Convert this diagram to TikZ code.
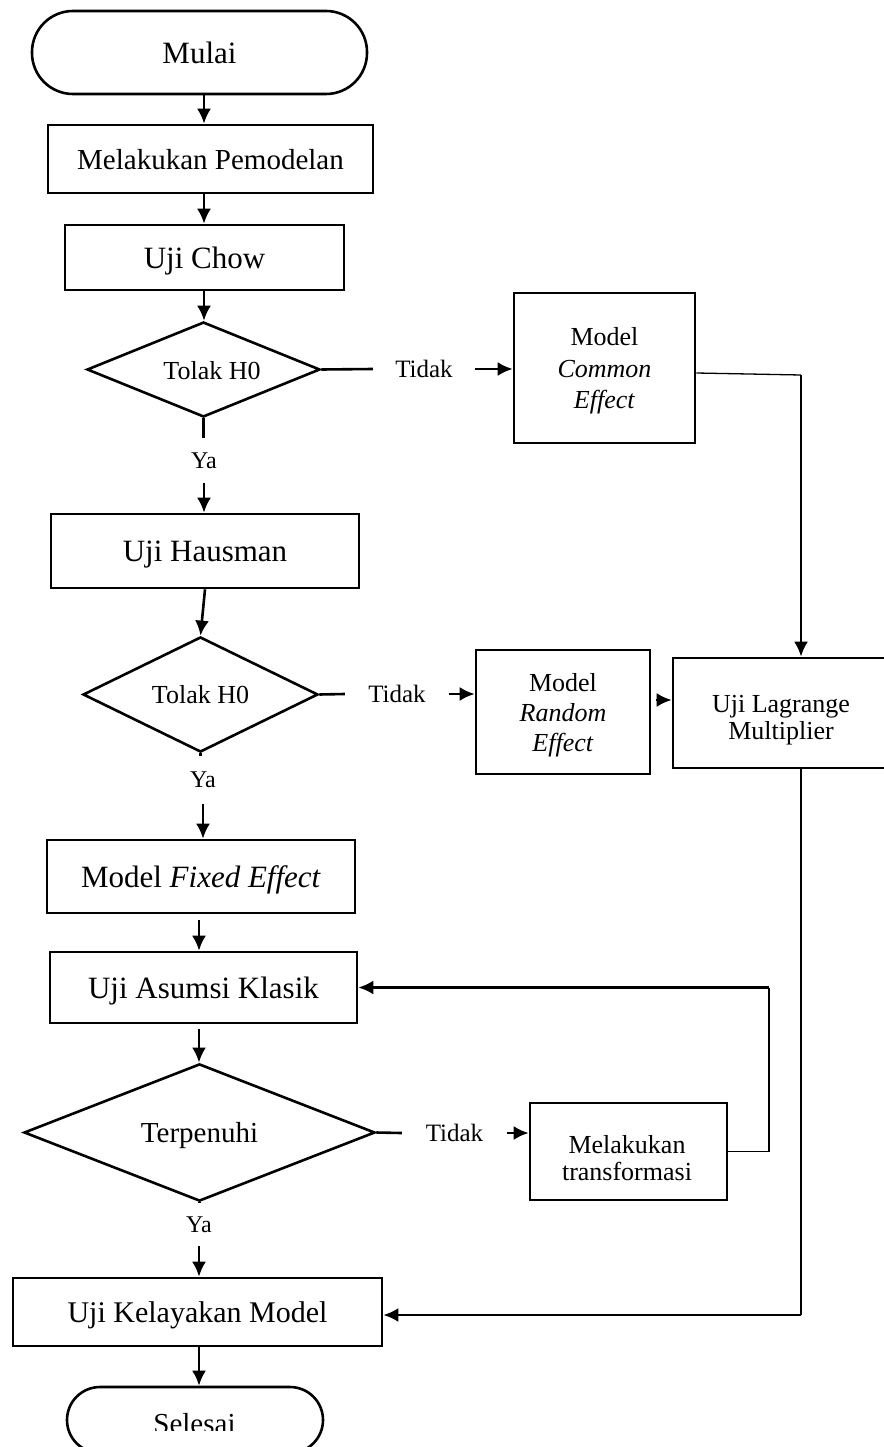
\documentclass[tikz,border=0pt]{standalone}
\usepackage{fontspec}
\setmainfont{Liberation Serif}
\usetikzlibrary{shapes.geometric,arrows.meta}
\begin{document}
\begin{tikzpicture}[x=1pt,y=-1pt,
  box/.style={draw, line width=2.6pt, inner sep=0pt, text depth=0pt, align=center},
  term/.style={box, rounded corners=#1},
  dec/.style={draw, diamond, line width=2.6pt, inner sep=0pt, text depth=0pt},
  txt/.style={inner sep=0pt, text depth=0pt, align=center},
  lbl/.style={inner sep=0pt, text depth=0pt},
  fA/.style={font=\fontsize{31}{37}\selectfont},
  fB/.style={font=\fontsize{29}{35}\selectfont},
  fC/.style={font=\fontsize{30}{36}\selectfont},
  fD/.style={font=\fontsize{26}{31.5}\selectfont},
  fE/.style={font=\fontsize{26}{30}\selectfont},
  fF/.style={font=\fontsize{26}{27}\selectfont},
  fG/.style={font=\fontsize{25}{30}\selectfont},
  fH/.style={font=\fontsize{24}{29}\selectfont},
  arr/.style={line width=2.6pt, -{Latex[length=15pt,width=14pt]}},
  ln/.style={line width=2.6pt},
  thinln/.style={line width=1.3pt}]
\useasboundingbox (0,0) rectangle (883,1447);

\coordinate (cA) at (204,0);
\coordinate (cB) at (199,0);
\coordinate (cR) at (801,0);
\coordinate (cL) at (769,0);

\node[term=41pt, minimum width=335pt, minimum height=83pt, fA] (mulai) at (199.5,52.5) {Mulai};
\node[box, minimum width=325pt, minimum height=68pt, fB] (pemod) at (210.5,159) {Melakukan Pemodelan};
\node[box, minimum width=279pt, minimum height=65pt, fA] (chow) at (204.5,257.5) {Uji Chow};
\node[dec, minimum width=233pt, minimum height=95pt] (d1) at (203.5,369.5) {};
\node[txt, fD] (d1t) at (212,370) {Tolak H0};
\node[lbl, fG, minimum width=102pt] (tidak1) at (424,369) {Tidak};
\node[box, minimum width=181pt, minimum height=150pt, fD] (common) at (604.5,368) {Model\\\textit{Common}\\\textit{Effect}};
\node[lbl, fH, minimum height=45pt] (ya1) at (204,460.5) {Ya};
\node[box, minimum width=308pt, minimum height=74pt, fA] (haus) at (205,551) {Uji Hausman};
\node[dec, minimum width=235pt, minimum height=95pt, fD] (d2) at (200.5,694.5) {Tolak H0};
\node[lbl, fG, minimum width=104pt] (tidak2) at (397,694) {Tidak};
\node[box, minimum width=174pt, minimum height=124pt, fE] (random) at (563,712) {Model\\\textit{Random}\\\textit{Effect}};
\node[box, minimum width=216pt, minimum height=110pt] (lagr) at (781,713) {};
\node[txt, fF] (lagrt) at (781,717.5) {Uji Lagrange\\Multiplier};
\node[lbl, fH, minimum height=48pt] (ya2) at (203,780) {Ya};
\node[box, minimum width=308pt, minimum height=73pt, fA] (fixed) at (201,876.5) {Model \textit{Fixed Effect}};
\node[box, minimum width=307pt, minimum height=71pt, fA] (asumsi) at (203.5,987.5) {Uji Asumsi Klasik};
\node[dec, minimum width=351pt, minimum height=111pt, fB] (d3) at (199.5,1132.5) {Terpenuhi};
\node[lbl, fG, minimum width=105pt] (tidak3) at (454.5,1133) {Tidak};
\node[box, minimum width=197pt, minimum height=97pt] (transf) at (628.5,1151.5) {};
\node[txt, fF] (transft) at (627,1157.5) {Melakukan\\transformasi};
\node[lbl, fH, minimum height=43pt] (ya3) at (199,1224.5) {Ya};
\node[box, minimum width=369pt, minimum height=68pt, fC] (kelay) at (197.5,1312) {Uji Kelayakan Model};
\node[term=33pt, minimum width=256pt, minimum height=66pt] (selesai) at (195,1420) {};
\begin{scope}
\clip (0,1380) rectangle (883,1430);
\node[txt, fB] (selesait) at (194.5,1423) {Selesai};
\end{scope}

\draw[arr] (mulai.south -| cA) -- (pemod.north -| cA);
\draw[arr] (pemod.south -| cA) -- (chow.north -| cA);
\draw[arr] (chow.south -| cA) -- (d1.north -| cA);
\draw[ln] (d1.east) -- (tidak1.west);
\draw[arr] (tidak1.east) -- (tidak1.east -| common.west);
\draw[ln] (d1.south) -- (d1.south |- ya1.north);
\draw[arr] (ya1.south) -- (ya1.south |- haus.north);
\draw[arr] (haus.south) -- (d2.north);
\draw[ln] (d2.east) -- (tidak2.west);
\draw[arr] (tidak2.east) -- (tidak2.east -| random.west);
\draw[arr] ([xshift=5pt,yshift=12pt]random.east) -- ([yshift=12pt]random.east -| lagr.west);
\draw[thinln] ([yshift=-5pt]common.east) -- ([yshift=-7pt]common.east -| cR);
\draw[arr] ([yshift=-7pt]common.east -| cR) -- (lagr.north -| cR);
\draw[thinln] (lagr.south -| cR) -- ([yshift=-3pt]kelay.east -| cR);
\draw[arr] ([yshift=-3pt]kelay.east -| cR) -- ([yshift=-3pt]kelay.east);
\draw[ln] (d2.south) -- (d2.south |- ya2.north);
\draw[arr] (ya2.south) -- (ya2.south |- fixed.north);
\draw[arr, shorten <=6pt] (fixed.south -| cB) -- (asumsi.north -| cB);
\draw[arr, shorten <=5pt] (asumsi.south -| cB) -- (d3.north -| cB);
\draw[ln] (d3.east) -- (tidak3.west);
\draw[arr] (tidak3.east) -- (tidak3.east -| transf.west);
\draw[thinln] (transf.east) -- (transf.east -| cL) -- (asumsi.east -| cL);
\draw[arr] (asumsi.east -| cL) -- (asumsi.east);
\draw[ln] (d3.south) -- (d3.south |- ya3.north);
\draw[arr] (ya3.south) -- (ya3.south |- kelay.north);
\draw[arr] (kelay.south -| cB) -- (selesai.north -| cB);
\end{tikzpicture}
\end{document}
